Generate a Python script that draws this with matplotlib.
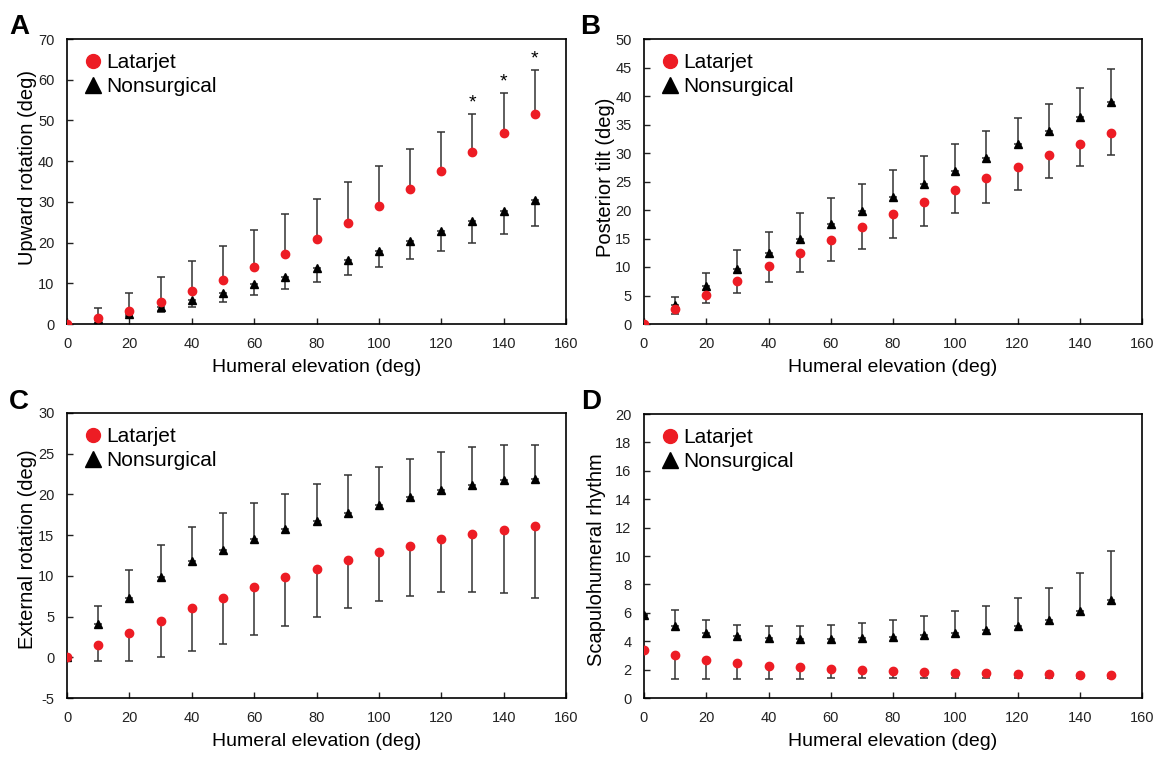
import numpy as np
import matplotlib
matplotlib.use('Agg')
from matplotlib import pyplot as plt
from matplotlib.lines import Line2D

plt.rcParams['font.family'] = ['Liberation Sans', 'DejaVu Sans']
plt.rcParams['axes.unicode_minus'] = False

# humeral elevation (deg)
elev = [0, 10, 20, 30, 40, 50, 60, 70, 80, 90, 100, 110, 120, 130, 140, 150]

# A: upward rotation
a_lat = [0, 1.5, 3.3, 5.5, 8.0, 10.7, 13.9, 17.2, 20.9, 24.8, 28.9, 33.1, 37.6, 42.2, 46.8, 51.6]
a_lat_err = [0, 2.4, 4.4, 6.0, 7.4, 8.5, 9.1, 9.7, 9.9, 10.0, 9.9, 9.8, 9.5, 9.5, 9.9, 10.7]
a_non = [0, 1.2, 2.5, 4.2, 6.0, 7.6, 9.8, 11.6, 13.7, 15.7, 17.9, 20.3, 22.8, 25.2, 27.8, 30.4]
a_non_err = [0, 0.3, 0.5, 1.3, 1.9, 2.1, 2.7, 3.0, 3.4, 3.7, 3.8, 4.3, 4.8, 5.2, 5.8, 6.3]

# B: posterior tilt
b_lat = [0, 2.7, 5.1, 7.5, 10.1, 12.4, 14.7, 17.0, 19.3, 21.4, 23.5, 25.6, 27.6, 29.6, 31.6, 33.5]
b_lat_err = [0, 0.95, 1.5, 2.1, 2.8, 3.3, 3.6, 3.8, 4.2, 4.2, 4.1, 4.3, 4.1, 4.0, 3.9, 3.8]
b_non = [0, 3.4, 6.7, 9.6, 12.4, 15.0, 17.5, 19.9, 22.3, 24.6, 26.8, 29.2, 31.5, 33.8, 36.3, 38.9]
b_non_err = [0, 1.4, 2.3, 3.3, 3.7, 4.4, 4.6, 4.7, 4.8, 4.8, 4.8, 4.6, 4.6, 4.8, 5.1, 5.8]

# C: external rotation
c_lat = [0, 1.5, 3.0, 4.5, 6.0, 7.3, 8.6, 9.8, 10.9, 11.9, 12.9, 13.7, 14.5, 15.1, 15.6, 16.1]
c_lat_err = [0, 2.0, 3.5, 4.5, 5.25, 5.7, 5.85, 5.9, 5.9, 5.9, 6.0, 6.15, 6.5, 7.05, 7.7, 8.8]
c_non = [0, 4.1, 7.3, 9.8, 11.8, 13.2, 14.5, 15.7, 16.7, 17.7, 18.7, 19.7, 20.5, 21.2, 21.8, 21.9]
c_non_err = [0, 2.2, 3.45, 4.0, 4.2, 4.5, 4.5, 4.4, 4.6, 4.7, 4.7, 4.6, 4.7, 4.6, 4.3, 4.2]

# D: scapulohumeral rhythm
d_lat = [3.4, 3.0, 2.7, 2.45, 2.25, 2.15, 2.05, 1.95, 1.9, 1.85, 1.75, 1.75, 1.7, 1.7, 1.65, 1.65]
d_lat_err = [0, 1.65, 1.35, 1.1, 0.9, 0.8, 0.65, 0.55, 0.5, 0.45, 0.35, 0.35, 0.3, 0.3, 0.25, 0.25]
d_non = [5.85, 5.05, 4.6, 4.35, 4.2, 4.15, 4.15, 4.2, 4.3, 4.45, 4.6, 4.8, 5.1, 5.5, 6.1, 6.9]
d_non_err = [0, 1.15, 0.9, 0.8, 0.85, 0.9, 1.0, 1.05, 1.2, 1.3, 1.5, 1.7, 1.95, 2.25, 2.7, 3.45]

# significant points in panel A
star_x = [130, 140, 150]

RED = '#ED1C24'
ERR = '#333333'

# letter, axes box (px), letter pos (px), data..., ylabel, ylabel pos, ylim, step
panels = [
    ('A', [67, 39, 566, 324], (9, 34), a_lat, a_lat_err, 'up', a_non, a_non_err, 'down',
     'Upward rotation (deg)', (-0.061, 0.549), (0, 70), 10),
    ('B', [644, 39, 1142, 324], (580, 34), b_lat, b_lat_err, 'down', b_non, b_non_err, 'up',
     'Posterior tilt (deg)', (-0.058, 0.516), (0, 50), 5),
    ('C', [67, 413, 566, 698], (9, 409), c_lat, c_lat_err, 'down', c_non, c_non_err, 'up',
     'External rotation (deg)', (-0.06, 0.523), (-5, 30), 5),
    ('D', [644, 414, 1142, 698], (581, 409), d_lat, d_lat_err, 'down', d_non, d_non_err, 'up',
     'Scapulohumeral rhythm', (-0.076, 0.486), (0, 20), 2),
]

W, H = 1162, 758
fig = plt.figure(figsize=(W / 100, H / 100), dpi=100)


def one_sided(err, side):
    err = np.array(err)
    z = np.zeros_like(err)
    return [z, err] if side == 'up' else [err, z]


for (letter, box, lpos, lat, lat_err, lat_side, non, non_err, non_side,
     ylab, ylpos, ylim, ystep) in panels:
    x0, y0, x1, y1 = box
    ax = fig.add_axes([x0 / W, 1 - y1 / H, (x1 - x0) / W, (y1 - y0) / H])

    ax.errorbar(elev, non, yerr=one_sided(non_err, non_side), fmt='^', color='black',
                ms=6, ecolor=ERR, elinewidth=1.1, capsize=2.6, capthick=1.1, zorder=3)
    ax.errorbar(elev, lat, yerr=one_sided(lat_err, lat_side), fmt='o', color=RED,
                ms=6, ecolor=ERR, elinewidth=1.1, capsize=2.6, capthick=1.1, zorder=4)

    ax.set_xlim(0, 160)
    ax.set_ylim(*ylim)
    ax.set_xticks(np.arange(0, 161, 20))
    ax.set_yticks(np.arange(ylim[0], ylim[1] + 0.1, ystep))
    ax.tick_params(labelsize=10.5, length=4, width=1, direction='in', pad=9, colors='#222222')
    for s in ax.spines.values():
        s.set_linewidth(1.2)

    ax.set_xlabel('Humeral elevation (deg)', fontsize=14, labelpad=6)
    ax.set_ylabel(ylab, fontsize=14.5)
    ax.yaxis.set_label_coords(*ylpos)

    handles = [Line2D([], [], ls='none', marker='o', color=RED, ms=10),
               Line2D([], [], ls='none', marker='^', color='black', ms=12)]
    ax.legend(handles, ['Latarjet', 'Nonsurgical'], loc='upper left', frameon=False,
              fontsize=15, handlelength=0.8, handletextpad=0.26, labelspacing=0.25,
              borderaxespad=0, bbox_to_anchor=(0.018, 0.98))

    fig.text(lpos[0] / W, 1 - lpos[1] / H, letter, fontsize=20, fontweight='bold',
             va='baseline', ha='left')

    if letter == 'A':
        for sx in star_x:
            i = elev.index(sx)
            ax.text(sx, lat[i] + lat_err[i] + 0.6, '*', ha='center', va='bottom', fontsize=14)

fig.savefig('out.png', dpi=100)
